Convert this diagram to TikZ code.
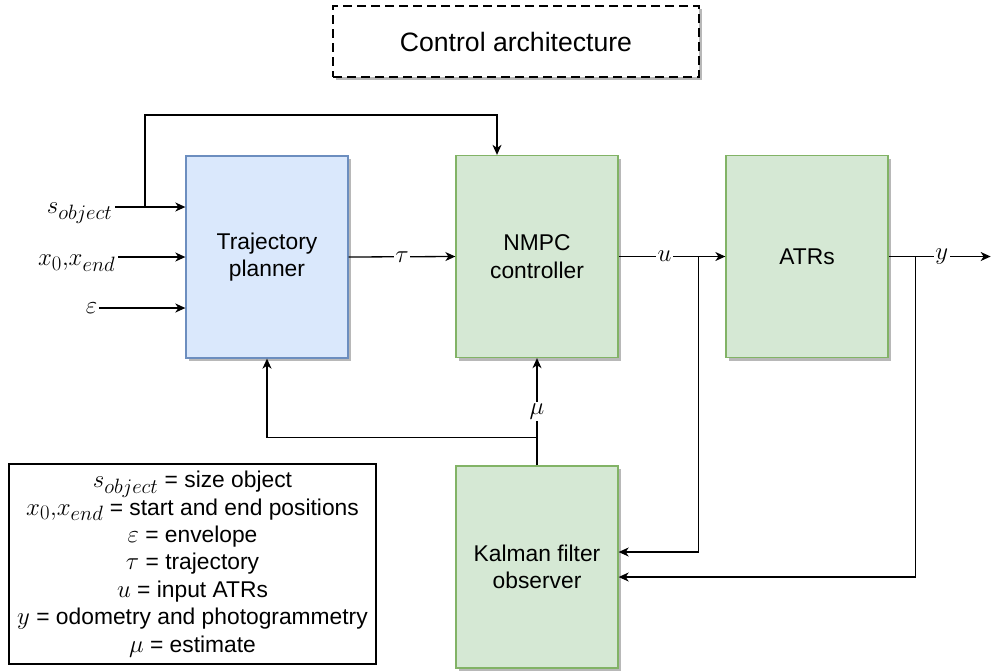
\documentclass[tikz,border=0pt]{standalone}
\usepackage{graphicx}
\usepackage{fontspec}
\setmainfont{Liberation Sans}
\usetikzlibrary{arrows.meta,shadows,calc}
\definecolor{blockgreen}{HTML}{D5E8D4}
\definecolor{edgegreen}{HTML}{82B366}
\definecolor{blockblue}{HTML}{DAE8FC}
\definecolor{edgeblue}{HTML}{6C8EBF}
% math symbols are set a little larger than the running text
\newcommand{\msym}[1]{\scalebox{1.2}{$#1$}}
\begin{document}
\begin{tikzpicture}[x=1pt,y=-1pt,
  basefont/.style={font=\fontsize{22.8}{27.4}\selectfont},
  softshadow/.style={drop shadow={shadow xshift=3pt,shadow yshift=-3pt,fill=black!28,opacity=1}},
  block/.style={basefont,draw,line width=1.3pt,minimum width=162pt,minimum height=202pt,
    align=center,inner sep=2pt,softshadow},
  greenblock/.style={block,fill=blockgreen,draw=edgegreen},
  blueblock/.style={block,fill=blockblue,draw=edgeblue},
  titlebox/.style={draw,line width=1.8pt,dash pattern=on 9pt off 5pt,fill=white,
    minimum width=366pt,minimum height=71pt,font=\fontsize{26.6}{32}\selectfont,softshadow},
  legendbox/.style={draw,line width=1.3pt,minimum width=367pt,minimum height=200pt,
    align=center,basefont,inner sep=2pt},
  inlab/.style={basefont,inner sep=1.5pt},
  lab/.style={basefont,fill=white,inner sep=1.5pt},
  plain/.style={line width=1.3pt},
  wire/.style={line width=1.3pt,-{Stealth[length=10pt,width=9pt,inset=3pt]}}]

\useasboundingbox (0,0) rectangle (992,670);

% title
\node[titlebox] (title) at (516,41.5) {Control architecture};

% main blocks
\node[blueblock]  (planner) at (267,257)   {Trajectory\\planner};
\node[greenblock] (nmpc)    at (537,256.5) {NMPC\\controller};
\node[greenblock] (atrs)    at (807,256.5) {ATRs};
\node[greenblock] (kalman)  at (537,567)   {Kalman filter\\observer};

% external inputs of the planner
\node[inlab,anchor=east] (sin) at (114,213) {\msym{s_{object}}};
\node[inlab,anchor=east] (xin) at (117,263) {\msym{x_0{,}x_{end}}};
\node[inlab,anchor=east] (ein) at (99,308) {\msym{\varepsilon}};
\coordinate (sstart) at (115,207);
\coordinate (xstart) at (118,257);
\draw[wire] (sstart) -- (sstart -| planner.west);
\draw[wire] (xstart) -- (xstart -| planner.west);
\draw[wire] (ein.east) -- (ein.east -| planner.west);

% object size also fed to the controller
\coordinate (tap) at (145,207);
\coordinate (topbend) at (497,115);
\draw[wire] (tap) |- (topbend) -- (topbend |- nmpc.north);

% forward chain
\draw[wire] (planner.east) -- node[lab] {\msym{\tau}} (nmpc.west);
\draw[wire] (nmpc.east) -- node[lab,pos=0.43] {\msym{u}} (atrs.west);
\coordinate (yend) at ($(atrs.east)+(102,0)$);
\draw[wire] (atrs.east) -- node[lab,pos=0.52] {\msym{y}} (yend);

% measurements to the observer
\coordinate (usplit) at ($(nmpc.east)!0.75!(atrs.west)$);
\coordinate (ysplit) at ($(atrs.east)+(27,0)$);
\draw[wire] (usplit) |- ($(kalman.east)+(0,-15)$);
\draw[wire] (ysplit) |- ($(kalman.east)+(0,10)$);

% estimate back to controller and planner
\draw[wire] (kalman.north) -- node[lab] {\msym{\mu}} (nmpc.south);
\coordinate (musplit) at ($(kalman.north)+(0,-28)$);
\draw[wire] (musplit) -| (planner.south);

% legend
\node[legendbox] (legend) at (192.5,564) {%
  \msym{s_{object}} = size object\\
  \msym{x_0{,}x_{end}} = start and end positions\\
  \msym{\varepsilon} = envelope\\
  \msym{\tau} = trajectory\\
  \msym{u} = input ATRs\\
  \msym{y} = odometry and photogrammetry\\
  \msym{\mu} = estimate};
\end{tikzpicture}
\end{document}
